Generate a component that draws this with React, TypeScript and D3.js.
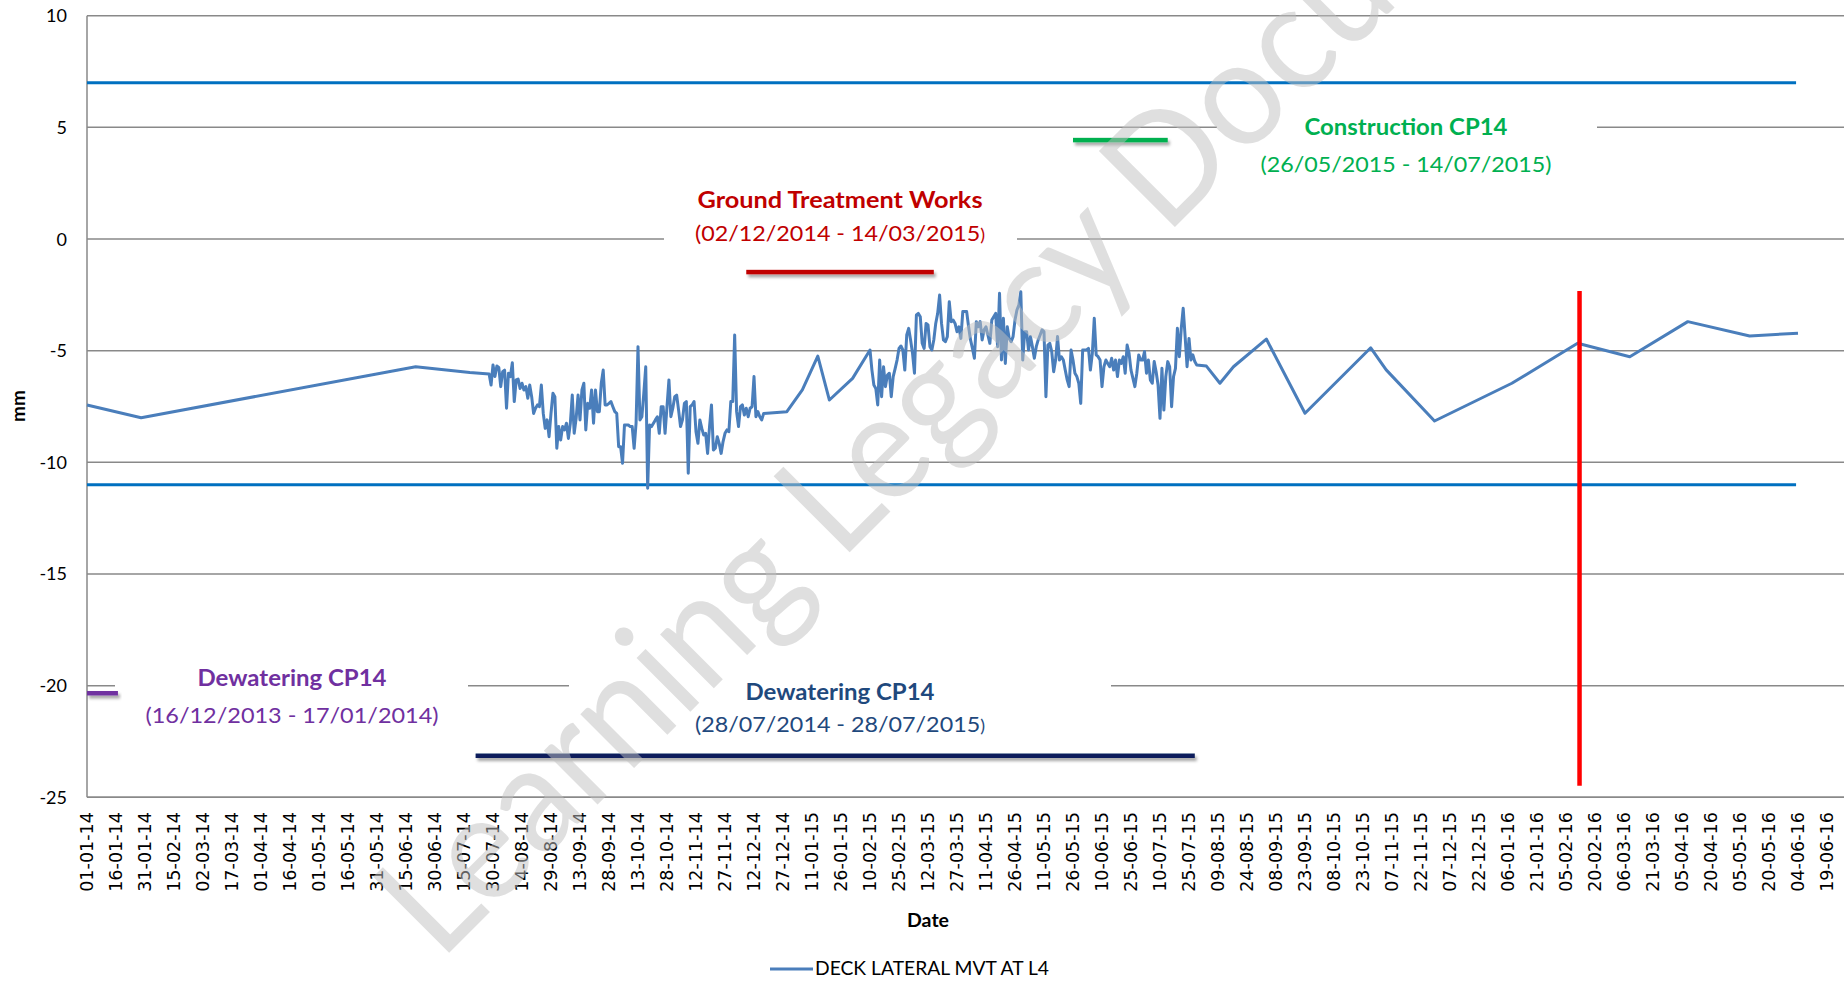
import React from 'react';
import * as d3 from 'd3';

// ---------------- DATA ----------------
// Reading dates as day offsets from 01-01-2014, and the lateral movement (mm)
const BASE_DATE = '2014-01-01';
const readingDay = [
  0, 28, 170, 198, 208,
  209, 210, 211, 212, 213, 214, 215, 216, 217, 218, 219, 220, 221, 222, 223, 224, 225, 226, 227, 228, 229, 230,
  231, 232, 233, 234, 235, 236, 237, 238, 239, 240, 241, 242, 243, 244, 245, 246, 247, 248, 249, 250,
  251, 252, 253, 254, 255, 256, 257, 258, 259, 260, 261, 262, 263, 264, 265, 266, 267, 268, 269, 270,
  271, 272, 273, 274, 275, 276, 277, 278, 279, 280, 281, 282, 283, 284, 285, 286, 287, 288, 289, 290,
  291, 292, 293, 294, 295, 296, 297, 298, 299, 300, 301, 302, 303, 304, 305, 306, 307, 308, 309, 310,
  311, 312, 313, 314, 315, 316, 317, 318, 319, 320, 321, 322, 323, 324, 325, 326, 327, 328, 329, 330,
  331, 332, 333, 334, 335, 336, 337, 338, 339, 340, 341, 342, 343, 344, 345, 346, 347, 348, 349, 350,
  362, 370, 378, 384, 396, 405,
  406, 407, 408, 409, 410, 411, 412, 413, 414, 415, 416, 417, 418, 419, 420, 421, 422, 423, 424, 425,
  426, 427, 428, 429, 430, 431, 432, 433, 434, 435, 436, 437, 438, 439, 440, 441, 442, 443, 444, 445,
  446, 447, 448, 449, 450, 451, 452, 453, 454, 455, 456, 457, 458, 459, 460, 461, 462, 463, 464, 465,
  466, 467, 468, 469, 470, 471, 472, 473, 474, 475, 476, 477, 478, 479, 480, 481, 482, 483, 484, 485,
  486, 487, 488, 489, 490, 491, 492, 493, 494, 495, 496, 497, 498, 499, 500, 501, 502, 503, 504, 505,
  506, 507, 508, 509, 510, 511, 512, 513, 514, 515, 516, 517, 518, 519, 520, 521, 522, 523, 524, 525,
  526, 527, 528, 529, 530, 531, 532, 533, 534, 535, 536, 537, 538, 539, 540, 541, 542, 543, 544, 545,
  546, 547, 548, 549, 550, 551, 552, 553, 554, 555, 556, 557, 558, 559, 560, 561, 562, 563, 564, 565,
  566, 567, 568, 569, 570, 571, 572, 573, 574,
  579, 586, 593, 610, 630, 664, 672, 697, 737, 771, 798, 828, 860, 885,
];
const readingMm = [
  -7.43, -8.0, -5.72, -5.98, -6.04,
  -6.54, -5.64, -6.16, -5.69, -5.75, -6.61, -5.94, -5.87, -7.58, -6.01, -6.16, -5.54, -7.28, -6.31, -6.27, -6.69, -6.46, -6.76, -6.61, -7.13, -6.54, -7.06,
  -7.81, -7.58, -7.43, -7.51, -6.54, -7.81, -8.48, -8.10, -8.85, -7.81, -6.91, -7.06, -9.37, -8.40, -9.00, -8.40, -8.55, -8.25, -8.93, -8.25,
  -6.99, -8.70, -8.03, -6.99, -8.10, -6.76, -6.46, -8.55, -7.36, -7.58, -6.76, -8.25, -6.76, -7.73, -7.73, -6.46, -5.87, -7.43, -7.43, -7.36,
  -7.28, -7.51, -7.73, -7.81, -9.30, -9.30, -10.04, -8.33, -8.33, -8.33, -8.40, -8.40, -9.37, -8.25, -4.82, -8.10, -7.96, -6.91, -5.72, -11.16,
  -8.33, -8.40, -8.25, -8.10, -7.96, -8.70, -7.51, -7.51, -8.70, -7.51, -6.31, -7.96, -7.58, -7.06, -6.99, -7.66, -8.40, -8.10, -7.36, -7.28,
  -10.49, -7.51, -7.43, -7.28, -8.63, -9.15, -8.10, -8.48, -8.78, -8.70, -9.60, -8.40, -7.43, -9.45, -9.37, -8.85, -9.15, -9.60, -9.07, -8.70,
  -8.55, -8.63, -7.28, -7.28, -4.30, -7.73, -8.40, -7.51, -7.43, -7.88, -7.58, -7.96, -7.58, -7.51, -6.16, -7.96, -7.73, -7.96, -8.10, -7.81,
  -7.73, -6.76, -5.24, -7.21, -6.24, -4.97,
  -5.87, -6.54, -6.69, -7.43, -5.42, -7.06, -5.72, -6.61, -6.09, -6.01, -7.06, -6.16, -5.80, -5.42, -4.90, -4.79, -4.97, -5.87, -4.30, -4.00,
  -4.52, -5.12, -6.01, -3.40, -3.33, -3.48, -4.67, -4.90, -3.78, -3.85, -4.82, -4.97, -4.52, -3.78, -3.33, -2.51, -3.78, -4.52, -4.60, -4.37,
  -2.81, -3.70, -3.63, -3.78, -4.15, -3.93, -4.45, -3.25, -3.25, -3.25, -3.93, -4.52, -4.90, -5.34, -3.70, -3.93, -3.70, -4.52, -4.07, -3.93,
  -4.30, -4.67, -3.63, -3.48, -3.33, -4.82, -2.43, -5.42, -3.55, -5.57, -3.93, -4.45, -4.60, -4.37, -3.63, -3.18, -2.96, -2.36, -5.42, -4.15,
  -4.15, -4.97, -4.37, -4.82, -5.34, -4.82, -4.52, -4.30, -4.07, -4.15, -7.06, -4.75, -4.67, -5.04, -5.94, -5.42, -4.37, -5.42, -5.27, -5.42,
  -5.87, -6.31, -6.61, -4.97, -5.42, -6.01, -6.16, -6.46, -7.36, -4.97, -4.97, -4.97, -4.90, -5.87, -5.12, -3.55, -5.19, -5.27, -5.42, -6.61,
  -5.72, -5.42, -5.57, -5.72, -5.34, -5.87, -5.42, -6.16, -5.42, -5.57, -5.27, -6.01, -4.75, -5.12, -5.87, -6.24, -6.61, -6.01, -5.19, -5.42,
  -5.42, -5.04, -6.01, -5.42, -6.31, -6.46, -5.49, -5.94, -6.54, -8.03, -5.79, -7.66, -6.16, -5.49, -5.72, -7.51, -6.16, -5.79, -4.00, -5.27,
  -4.00, -3.10, -4.37, -5.72, -4.45, -5.42, -5.19, -5.49, -5.64,
  -5.69, -6.46, -5.72, -4.48, -7.80, -4.87, -5.86, -8.15, -6.46, -4.67, -5.27, -3.70, -4.34, -4.22,
];
const seriesName = 'DECK LATERAL MVT AT L4';

// Alarm / trigger levels (mm) drawn across the monitored period
const alarmLevels = [7, -11];
const alarmFrom = '2014-01-01';
const alarmTo = '2016-06-03';

// Axis ticks
const yTicks = [10, 5, 0, -5, -10, -15, -20, -25];
const xTickFirst = '2014-01-01';
const xTickLast = '2016-06-19';
const xTickStepDays = 15;

// Works periods
const periodTitles = ['Dewatering CP14', 'Dewatering CP14', 'Ground Treatment Works', 'Construction CP14'];
const periodRanges = ['(16/12/2013 - 17/01/2014', '(28/07/2014 - 28/07/2015', '(02/12/2014 - 14/03/2015', '(26/05/2015 - 14/07/2015'];
const periodBarStart = ['2013-12-16', '2014-07-21', '2014-12-08', '2015-05-26'];
const periodBarEnd = ['2014-01-17', '2015-07-28', '2015-03-15', '2015-07-14'];
const periodBarLevel = [-20.34, -23.14, -1.48, 4.43];

// Current-date marker
const markerDate = '2016-02-12';
const markerRange = [-2.33, -24.48];

const watermarkText = 'Learning Legacy Document';

// ---------------- STYLE / LAYOUT ----------------
const W = 1844;
const H = 982;
const PLOT_LEFT = 87;
const PLOT_RIGHT = 1844;
const GRID = '#898989';
const SERIES = '#4A7EBB';
const ALARM = '#0070C0';
const LABEL_FONT = 'Lato, "Open Sans", sans-serif';
const TICK_FONT = '"DejaVu Sans", sans-serif';

const periodTextColor = ['#7030A0', '#1F497D', '#C00000', '#00B050'];
const periodBarColor = ['#7030A0', '#0C1F5B', '#C00000', '#00B050'];
// closing parenthesis drawn smaller in some range labels
const closeParenSize = [22, 17, 17, 22];
// text blocks: centre x, title baseline, range baseline, title width, range width, white box [x0,x1,y0,y1]
const periodLayout = [
  { cx: 292, ty: 686, ry: 723, tw: 189, rw: 293, box: [115, 468, 655, 735] },
  { cx: 840, ty: 700, ry: 732, tw: 189, rw: 290, box: [569, 1111, 665, 745] },
  { cx: 840, ty: 208, ry: 241, tw: 285, rw: 290, box: [664, 1017, 175, 252] },
  { cx: 1406, ty: 135, ry: 172, tw: 203, rw: 291, box: [1217, 1597, 100, 182] },
];

const parse = (s: string) => {
  const [y, m, d] = s.split('-').map(Number);
  return new Date(Date.UTC(y, m - 1, d));
};
const fmt = d3.utcFormat('%d-%m-%y');

export default function App() {
  const base = parse(BASE_DATE);
  const x = d3.scaleUtc().domain([parse(xTickFirst), parse(xTickLast)]).range([87, 1827]);
  const y = d3.scaleLinear().domain([-25, 10]).range([797.3, 15.7]);

  const points = readingDay.map((d, i) => ({ date: d3.utcDay.offset(base, d), v: readingMm[i] }));
  const line = d3
    .line<{ date: Date; v: number }>()
    .x((p) => x(p.date))
    .y((p) => y(p.v));

  const xTicks = d3.utcDay.range(parse(xTickFirst), d3.utcDay.offset(parse(xTickLast), 1), xTickStepDays);
  const BAR_H = 4.5;

  return (
    <svg
      width={W}
      height={H}
      style={{ position: 'absolute', left: 0, top: 0, display: 'block', background: '#fff' }}
    >
      <defs>
        <filter id="shadow" x="-10%" y="-150%" width="120%" height="400%">
          <feDropShadow dx="2" dy="3" stdDeviation="1.6" floodColor="#000" floodOpacity="0.35" />
        </filter>
      </defs>
      <rect x={0} y={0} width={W} height={H} fill="#fff" />

      {/* gridlines */}
      {yTicks.map((t) => (
        <line key={'g' + t} x1={PLOT_LEFT} x2={PLOT_RIGHT} y1={y(t)} y2={y(t)} stroke={GRID} strokeWidth={1.5} />
      ))}
      {/* y axis */}
      <line x1={PLOT_LEFT} x2={PLOT_LEFT} y1={y(10)} y2={y(-25)} stroke={GRID} strokeWidth={1.5} />

      {/* white boxes behind annotation texts */}
      {periodLayout.map((l, i) => (
        <rect key={'b' + i} x={l.box[0]} y={l.box[2]} width={l.box[1] - l.box[0]} height={l.box[3] - l.box[2]} fill="#fff" />
      ))}

      {/* alarm levels */}
      {alarmLevels.map((a) => (
        <line key={'a' + a} x1={x(parse(alarmFrom))} x2={x(parse(alarmTo))} y1={y(a)} y2={y(a)} stroke={ALARM} strokeWidth={3} />
      ))}

      {/* period bars */}
      {periodBarLevel.map((lv, i) => {
        const x0 = Math.max(PLOT_LEFT, x(parse(periodBarStart[i])));
        const x1 = x(parse(periodBarEnd[i]));
        return (
          <rect
            key={'p' + i}
            x={x0}
            y={y(lv) - BAR_H / 2}
            width={x1 - x0}
            height={BAR_H}
            fill={periodBarColor[i]}
            filter="url(#shadow)"
          />
        );
      })}

      {/* series */}
      <path d={line(points) || ''} fill="none" stroke={SERIES} strokeWidth={3} strokeLinejoin="round" />

      {/* marker */}
      <line
        x1={x(parse(markerDate))}
        x2={x(parse(markerDate))}
        y1={y(markerRange[0])}
        y2={y(markerRange[1])}
        stroke="#FF0000"
        strokeWidth={4.5}
      />

      {/* period texts */}
      {periodLayout.map((l, i) => (
        <g key={'t' + i} fill={periodTextColor[i]} fontFamily={LABEL_FONT}>
          <text x={l.cx} y={l.ty} textAnchor="middle" fontWeight="bold" fontSize={22} textLength={l.tw} lengthAdjust="spacingAndGlyphs">
            {periodTitles[i]}
          </text>
          <text x={l.cx} y={l.ry} textAnchor="middle" fontSize={22} textLength={l.rw} lengthAdjust="spacingAndGlyphs">
            {periodRanges[i]}
            <tspan fontSize={closeParenSize[i]}>)</tspan>
          </text>
        </g>
      ))}

      {/* y tick labels */}
      {yTicks.map((t) => (
        <text key={'yl' + t} x={67} y={y(t) + 6.5} textAnchor="end" fontFamily={LABEL_FONT} fontSize={18} fill="#000">
          {t}
        </text>
      ))}
      {/* y title */}
      <text transform="translate(25,406) rotate(-90)" textAnchor="middle" fontFamily={LABEL_FONT} fontWeight="bold" fontSize={19} fill="#000">
        mm
      </text>

      {/* x axis */}
      <line x1={PLOT_LEFT} x2={PLOT_RIGHT} y1={y(-25)} y2={y(-25)} stroke={GRID} strokeWidth={1.5} />
      {xTicks.map((d, i) => (
        <text
          key={'xl' + i}
          transform={`translate(${x(d) + 6.4},812) rotate(-90)`}
          textAnchor="end"
          fontFamily={TICK_FONT}
          fontSize={17.6}
          fill="#000"
        >
          {fmt(d)}
        </text>
      ))}
      <text x={928} y={927} textAnchor="middle" fontFamily={LABEL_FONT} fontWeight="bold" fontSize={19.5} fill="#000">
        Date
      </text>

      {/* legend */}
      <line x1={770} x2={813} y1={969} y2={969} stroke={SERIES} strokeWidth={3} />
      <text x={815} y={975} fontFamily={LABEL_FONT} fontSize={18.5} fill="#000" textLength={234} lengthAdjust="spacingAndGlyphs">
        {seriesName}
      </text>

      {/* watermark */}
      <text
        transform="translate(440,962) rotate(-45)"
        fontFamily={LABEL_FONT}
        fontSize={150}
        fill="#C0C0C0"
        fillOpacity={0.5}
        textLength={1680}
        lengthAdjust="spacingAndGlyphs"
      >
        {watermarkText}
      </text>
    </svg>
  );
}
